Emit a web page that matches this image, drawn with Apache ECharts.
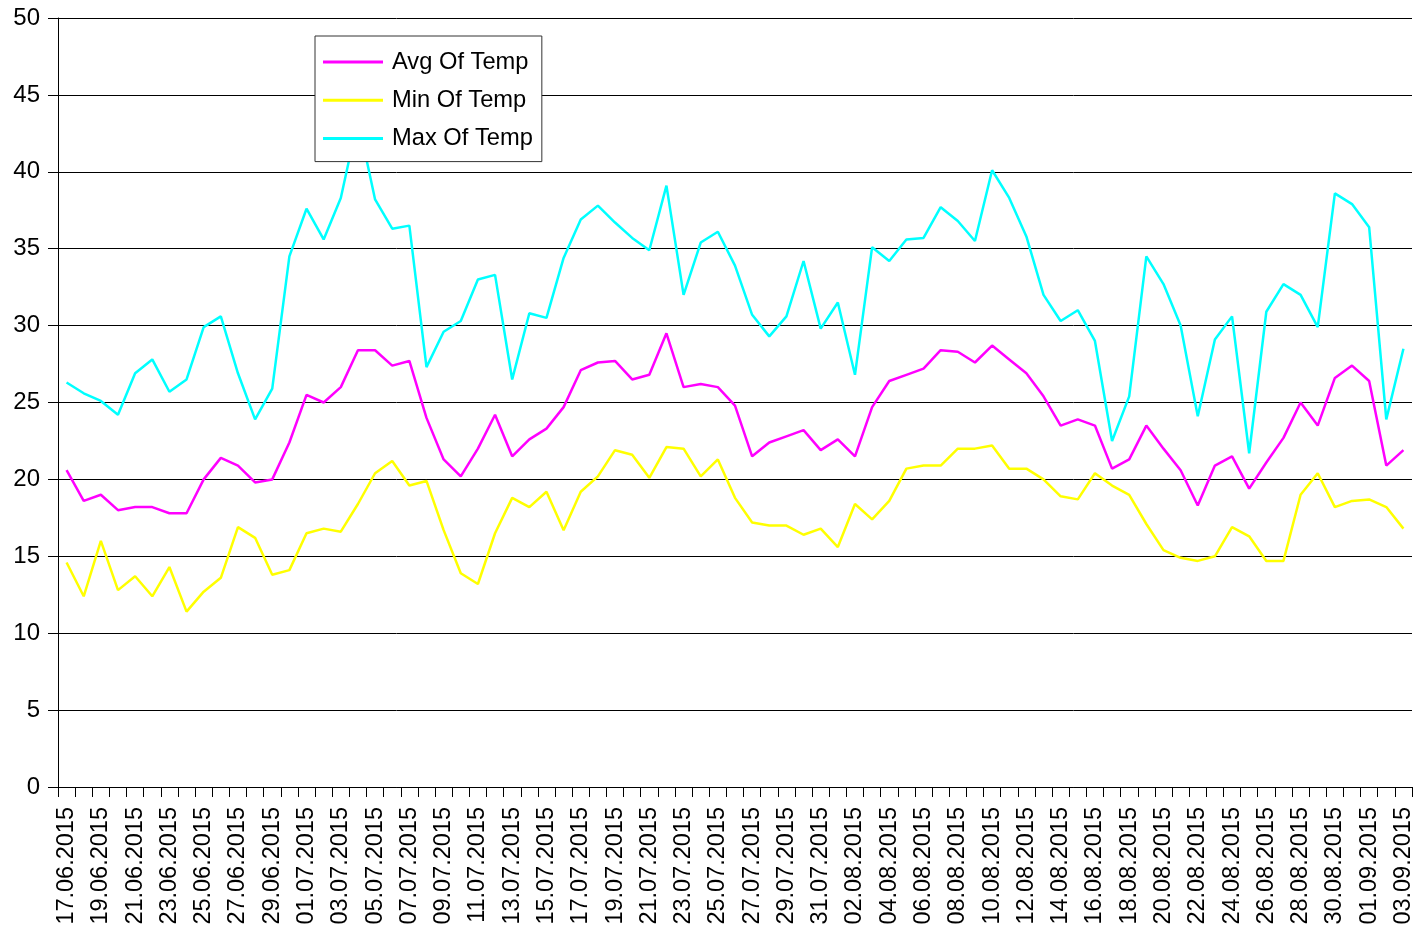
<!DOCTYPE html>
<html>
<head>
<meta charset="utf-8">
<script src="https://cdn.jsdelivr.net/npm/echarts@6/dist/echarts.min.js"></script>
<style>
html,body{margin:0;padding:0;background:#fff;}
#chart{width:1418px;height:941px;}
</style>
</head>
<body>
<div id="chart"></div>
<script>
const dates = [
"17.06.2015","18.06.2015","19.06.2015","20.06.2015","21.06.2015","22.06.2015","23.06.2015","24.06.2015",
"25.06.2015","26.06.2015","27.06.2015","28.06.2015","29.06.2015","30.06.2015",
"01.07.2015","02.07.2015","03.07.2015","04.07.2015","05.07.2015","06.07.2015","07.07.2015","08.07.2015",
"09.07.2015","10.07.2015","11.07.2015","12.07.2015","13.07.2015","14.07.2015","15.07.2015","16.07.2015",
"17.07.2015","18.07.2015","19.07.2015","20.07.2015","21.07.2015","22.07.2015","23.07.2015","24.07.2015",
"25.07.2015","26.07.2015","27.07.2015","28.07.2015","29.07.2015","30.07.2015","31.07.2015",
"01.08.2015","02.08.2015","03.08.2015","04.08.2015","05.08.2015","06.08.2015","07.08.2015","08.08.2015",
"09.08.2015","10.08.2015","11.08.2015","12.08.2015","13.08.2015","14.08.2015","15.08.2015","16.08.2015",
"17.08.2015","18.08.2015","19.08.2015","20.08.2015","21.08.2015","22.08.2015","23.08.2015","24.08.2015",
"25.08.2015","26.08.2015","27.08.2015","28.08.2015","29.08.2015","30.08.2015","31.08.2015",
"01.09.2015","02.09.2015","03.09.2015"
];

const avgTemp = [
20.6,18.6,19.0,18.0,18.2,18.2,17.8,17.8,20.0,21.4,20.9,19.8,20.0,22.4,
25.5,25.0,26.0,28.4,28.4,27.4,27.7,24.0,21.3,20.2,22.0,24.2,21.5,22.6,23.3,24.7,
27.1,27.6,27.7,26.5,26.8,29.5,26.0,26.2,26.0,24.8,21.5,22.4,22.8,23.2,21.9,22.6,21.5,
24.7,26.4,26.8,27.2,28.4,28.3,27.6,28.7,27.8,26.9,25.4,23.5,23.9,23.5,20.7,21.3,23.5,
22.0,20.6,18.3,20.9,21.5,19.4,21.1,22.7,25.0,23.5,26.6,27.4,26.4,20.9,21.9
];

const minTemp = [
14.6,12.4,16.0,12.8,13.7,12.4,14.3,11.4,12.7,13.6,16.9,16.2,13.8,14.1,
16.5,16.8,16.6,18.4,20.4,21.2,19.6,19.9,16.7,13.9,13.2,16.5,18.8,18.2,19.2,16.7,
19.2,20.2,21.9,21.6,20.1,22.1,22.0,20.2,21.3,18.8,17.2,17.0,17.0,16.4,16.8,15.6,18.4,
17.4,18.6,20.7,20.9,20.9,22.0,22.0,22.2,20.7,20.7,20.0,18.9,18.7,20.4,19.6,19.0,17.1,
15.4,14.9,14.7,15.0,16.9,16.3,14.7,14.7,19.0,20.4,18.2,18.6,18.7,18.2,16.8
];

const maxTemp = [
26.3,25.6,25.1,24.2,26.9,27.8,25.7,26.5,29.9,30.6,26.9,23.9,25.9,34.5,
37.6,35.6,38.3,43.4,38.2,36.3,36.5,27.3,29.6,30.3,33.0,33.3,26.5,30.8,30.5,34.4,
36.9,37.8,36.7,35.7,34.9,39.1,32.0,35.4,36.1,33.9,30.7,29.3,30.6,34.2,29.8,31.5,26.8,
35.1,34.2,35.6,35.7,37.7,36.8,35.5,40.1,38.3,35.8,32.0,30.3,31.0,29.0,22.5,25.4,34.5,
32.7,30.0,24.1,29.1,30.6,21.7,30.9,32.7,32.0,29.9,38.6,37.9,36.4,23.9,28.5
];

const yTicks = { min: 0, max: 50, interval: 5 };
const seriesNames = ["Avg Of Temp", "Min Of Temp", "Max Of Temp"];
const seriesColors = ["#ff00ff", "#ffff00", "#00ffff"];

const FONT = "'Liberation Sans', Arial, sans-serif";
const chart = echarts.init(document.getElementById('chart'), null, { renderer: 'canvas' });

const values = [avgTemp, minTemp, maxTemp];

chart.setOption({
  animation: false,
  backgroundColor: '#ffffff',
  textStyle: { fontFamily: FONT },
  grid: { left: 58, right: 6, top: 18, bottom: 154, containLabel: false },
  legend: {
    orient: 'vertical',
    left: 315,
    top: 36,
    z: 10,
    data: seriesNames,
    icon: 'rect',
    itemWidth: 60,
    itemHeight: 3,
    itemGap: 12.3,
    padding: [13, 9, 10, 8],
    backgroundColor: '#ffffff',
    borderColor: '#333333',
    borderWidth: 1,
    selectedMode: false,
    textStyle: {
      fontFamily: FONT,
      fontSize: 23.7,
      lineHeight: 26,
      color: '#000000',
      padding: [0, 0, 0, 4]
    }
  },
  xAxis: {
    type: 'category',
    data: dates,
    boundaryGap: true,
    axisLine: { show: true, lineStyle: { color: '#000000', width: 1 } },
    axisTick: { show: true, interval: 0, length: 10, alignWithLabel: false, lineStyle: { color: '#000000' } },
    axisLabel: {
      interval: 1,
      rotate: 90,
      fontSize: 23.5,
      fontFamily: FONT,
      color: '#000000',
      margin: 20
    },
    splitLine: { show: false }
  },
  yAxis: {
    type: 'value',
    min: yTicks.min,
    max: yTicks.max,
    interval: yTicks.interval,
    axisLine: { show: true, lineStyle: { color: '#000000', width: 1 } },
    axisTick: { show: true, length: 10, lineStyle: { color: '#000000' } },
    axisLabel: { fontSize: 24, fontFamily: FONT, color: '#000000', margin: 18 },
    splitLine: { show: true, lineStyle: { color: '#000000', width: 1 } }
  },
  series: seriesNames.map((name, k) => ({
    name: name,
    type: 'line',
    data: values[k],
    showSymbol: false,
    symbol: 'none',
    smooth: false,
    z: 2,
    color: seriesColors[k],
    lineStyle: { color: seriesColors[k], width: 2.5 },
    emphasis: { disabled: true }
  }))
});
</script>
</body>
</html>
